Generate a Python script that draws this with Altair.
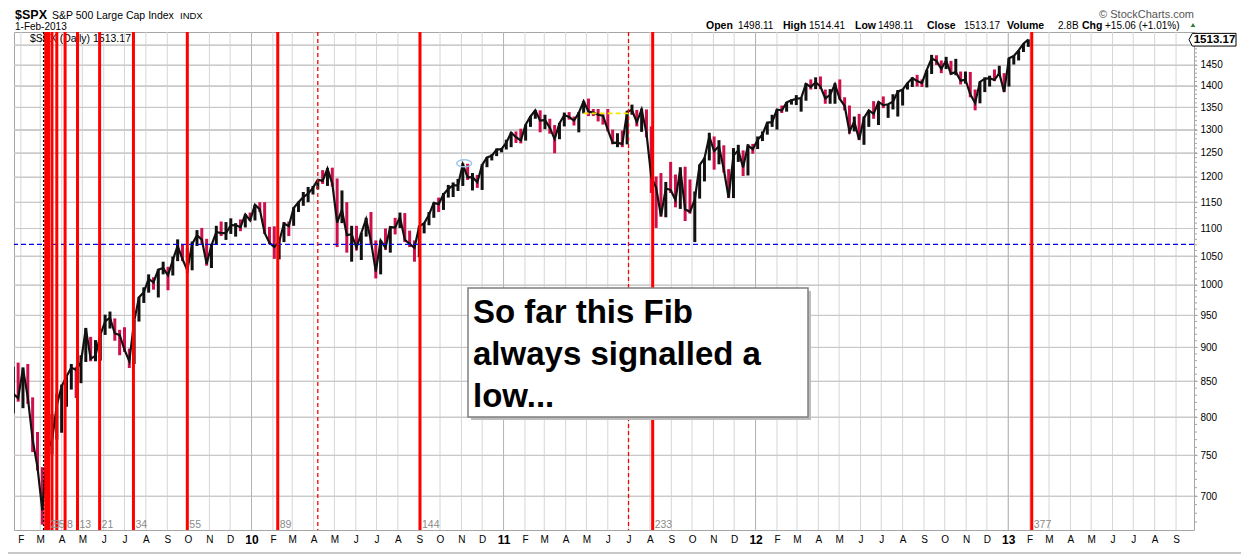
import altair as alt
import pandas as pd
import numpy as np

# ---------------- weekly S&P 500 values ----------------
closes_2009 = [831.95, 825.88, 868.60, 826.84, 770.05, 735.09, 683.38, 756.55, 768.54, 815.94,
               842.50, 856.56, 869.60, 866.23, 877.52, 929.23, 882.88, 887.00, 919.14, 940.09,
               946.21, 921.23, 918.90, 896.42, 879.13, 940.38, 979.26, 987.48, 1010.48, 1004.09,
               1026.13, 1028.93, 1016.40, 1042.73, 1068.30, 1044.38, 1025.21, 1071.49, 1087.68, 1079.60,
               1036.19, 1069.30, 1093.48, 1091.38, 1091.49, 1105.98, 1106.41, 1102.47, 1126.48, 1115.10]
highs_2009 = [871, 877, 870, 875, 827, 780, 735, 758, 804, 832,
              845, 857, 875, 871, 888, 930, 916, 911, 920, 951,
              956, 945, 927, 931, 898, 942, 980, 996, 1018, 1013,
              1027, 1040, 1031, 1049, 1080, 1071, 1064, 1076, 1097, 1101,
              1081, 1072, 1105, 1113, 1112, 1119, 1110, 1117, 1127, 1130]
lows_2009 = [805, 821, 812, 818, 754, 731, 667, 672, 751, 770,
             779, 814, 838, 826, 847, 878, 879, 879, 880, 919,
             929, 910, 888, 893, 869, 875, 940, 970, 987, 992,
             979, 1018, 991, 1016, 1041, 1041, 1020, 1025, 1068, 1072,
             1033, 1029, 1070, 1086, 1079, 1090, 1085, 1095, 1102, 1114]

closes_2010 = [1144.98, 1136.03, 1091.76, 1073.87, 1066.19, 1075.51, 1109.17, 1104.49, 1138.70, 1149.99,
               1159.90, 1166.59, 1178.10, 1194.37, 1192.13, 1217.28, 1186.69, 1110.88, 1135.68, 1087.69,
               1089.41, 1064.88, 1091.60, 1117.51, 1076.76, 1022.58, 1077.96, 1064.88, 1102.66, 1101.60,
               1121.64, 1079.25, 1071.69, 1064.59, 1104.51, 1109.55, 1125.59, 1148.67, 1146.24, 1165.15,
               1176.19, 1183.08, 1183.26, 1225.85, 1199.21, 1199.73, 1189.40, 1224.71, 1240.40, 1243.91,
               1256.77, 1257.64]
highs_2010 = [1145, 1150, 1150, 1103, 1104, 1080, 1112, 1113, 1140, 1151,
              1170, 1180, 1182, 1194, 1214, 1218, 1219, 1197, 1173, 1150,
              1105, 1105, 1092, 1120, 1131, 1078, 1078, 1100, 1104, 1120,
              1130, 1129, 1096, 1078, 1105, 1111, 1131, 1149, 1159, 1168,
              1184, 1189, 1196, 1228, 1227, 1208, 1204, 1226, 1241, 1247,
              1259, 1260]
lows_2010 = [1115, 1131, 1090, 1071, 1045, 1044, 1075, 1086, 1105, 1131,
             1143, 1150, 1165, 1175, 1186, 1182, 1181, 1066, 1110, 1056,
             1040, 1060, 1043, 1085, 1070, 1011, 1018, 1061, 1056, 1089,
             1101, 1075, 1066, 1040, 1048, 1091, 1106, 1120, 1131, 1135,
             1159, 1160, 1172, 1182, 1194, 1173, 1178, 1174, 1220, 1234,
             1243, 1251]

closes_2011 = [1271.50, 1293.24, 1283.35, 1276.34, 1310.87, 1329.15, 1343.01, 1319.88, 1321.15, 1304.28,
               1279.20, 1313.80, 1332.41, 1328.17, 1319.68, 1337.38, 1363.61, 1340.20, 1337.77, 1333.27,
               1331.10, 1300.16, 1270.98, 1271.50, 1268.45, 1339.67, 1343.80, 1316.14, 1345.02, 1292.28,
               1199.38, 1178.81, 1123.53, 1176.80, 1173.97, 1154.23, 1216.01, 1136.43, 1131.42, 1155.46,
               1224.58, 1238.25, 1285.09, 1253.23, 1263.85, 1215.65, 1158.67, 1244.28, 1255.19, 1219.66,
               1265.33, 1257.60]
highs_2011 = [1278, 1294, 1296, 1302, 1311, 1330, 1344, 1343, 1333, 1324,
              1310, 1315, 1338, 1339, 1329, 1339, 1364, 1370, 1346, 1346,
              1334, 1346, 1300, 1292, 1298, 1342, 1356, 1344, 1347, 1345,
              1307, 1201, 1208, 1190, 1231, 1205, 1220, 1221, 1195, 1171,
              1225, 1240, 1293, 1285, 1277, 1266, 1216, 1260, 1267, 1255,
              1268, 1269]
lows_2011 = [1257, 1262, 1271, 1270, 1276, 1306, 1324, 1294, 1301, 1291,
             1249, 1279, 1307, 1322, 1309, 1294, 1336, 1330, 1330, 1318,
             1311, 1296, 1268, 1262, 1262, 1268, 1333, 1307, 1295, 1283,
             1168, 1101, 1122, 1121, 1168, 1140, 1137, 1114, 1128, 1075,
             1157, 1191, 1234, 1215, 1226, 1209, 1158, 1158, 1231, 1202,
             1203, 1248]

closes_2012 = [1277.81, 1289.09, 1315.38, 1316.33, 1344.90, 1342.64, 1361.23, 1365.74, 1369.63, 1370.87,
               1404.17, 1397.11, 1408.47, 1398.08, 1370.26, 1378.53, 1403.36, 1369.10, 1353.39, 1295.22,
               1317.82, 1278.04, 1325.66, 1342.84, 1335.02, 1362.16, 1354.68, 1356.78, 1362.66, 1385.97,
               1390.99, 1405.87, 1418.16, 1411.13, 1406.58, 1437.92, 1465.77, 1460.15, 1440.67, 1460.93,
               1428.59, 1433.19, 1411.94, 1414.20, 1379.85, 1359.88, 1409.15, 1416.18, 1418.07, 1413.58,
               1430.15, 1385.59]
highs_2012 = [1285, 1296, 1316, 1333, 1345, 1354, 1362, 1368, 1378, 1372,
              1406, 1415, 1420, 1422, 1391, 1392, 1406, 1415, 1373, 1354,
              1329, 1335, 1329, 1343, 1364, 1363, 1375, 1357, 1380, 1390,
              1392, 1407, 1420, 1426, 1415, 1438, 1475, 1474, 1461, 1470,
              1460, 1465, 1434, 1434, 1433, 1391, 1410, 1420, 1424, 1439,
              1448, 1430]
lows_2012 = [1258, 1275, 1289, 1306, 1300, 1337, 1340, 1356, 1355, 1340,
             1365, 1391, 1392, 1392, 1358, 1358, 1358, 1368, 1343, 1291,
             1296, 1277, 1267, 1306, 1324, 1310, 1348, 1326, 1345, 1329,
             1354, 1391, 1397, 1398, 1397, 1396, 1428, 1450, 1430, 1440,
             1426, 1425, 1403, 1405, 1373, 1343, 1359, 1385, 1398, 1411,
             1424, 1385]

closes_2013 = [1466.47, 1472.05, 1485.98, 1502.96, 1513.17]
highs_2013 = [1467, 1473, 1486, 1503, 1514]
lows_2013 = [1398, 1451, 1461, 1482, 1495]

# ---------------- annotations ----------------
start_date = ["2009-03-06"]
fib_dates = ["2009-03-09", "2009-03-10", "2009-03-11", "2009-03-13", "2009-03-18", "2009-03-25",
             "2009-04-06", "2009-04-24", "2009-05-26", "2009-07-14", "2009-09-30", "2010-02-08",
             "2010-09-02", "2011-08-05", "2013-02-04"]
fib_labels = ["", "", "", "2", "3", "5", "8", "13", "21", "34", "55", "89", "144", "233", "377"]
dashed_dates = ["2010-04-07", "2011-07-01"]
support_level = [1071]
resistance_start = ["2011-04-27"]
resistance_end = ["2011-07-01"]
resistance_level = [1336]
marker_date = ["2010-11-05"]
marker_value = [1228]
last_close = 1513.17
y_ticks = list(range(700, 1501, 50))
minor_ticks = list(range(670, 1531, 10))
year_starts = ["2010-01-01", "2011-01-01", "2012-01-01", "2013-01-01"]

header_labels = ["Open", "High", "Low", "Close", "Volume", "Chg"]
header_values = ["1498.11", "1514.41", "1498.11", "1513.17", "2.8B", "+15.06 (+1.01%)"]
note_lines = ["So far this Fib", "always signalled a", "low..."]

# ---------------- frames ----------------
closes = closes_2009 + closes_2010 + closes_2011 + closes_2012 + closes_2013
highs = highs_2009 + highs_2010 + highs_2011 + highs_2012 + highs_2013
lows = lows_2009 + lows_2010 + lows_2011 + lows_2012 + lows_2013
dates = pd.date_range("2009-01-21", periods=len(closes), freq="7D")
prices = pd.DataFrame({"date": dates, "close": closes, "high": highs, "low": lows})
prices["dir"] = np.where(prices["close"].diff().fillna(0) >= 0, "up", "down")

fib_df = pd.DataFrame({"date": pd.to_datetime(fib_dates), "label": fib_labels})
start_df = pd.DataFrame({"date": pd.to_datetime(start_date)})
dashed_df = pd.DataFrame({"date": pd.to_datetime(dashed_dates)})
support_df = pd.DataFrame({"level": support_level})
res_df = pd.DataFrame({"start": pd.to_datetime(resistance_start), "end": pd.to_datetime(resistance_end),
                       "level": resistance_level})
marker_df = pd.DataFrame({"date": pd.to_datetime(marker_date), "value": marker_value})
minor_df = pd.DataFrame({"mt": minor_ticks})
month_grid_df = pd.DataFrame({"date": pd.date_range("2009-02-01", "2013-09-01", freq="MS")})
year_grid_df = pd.DataFrame({"date": pd.to_datetime(year_starts)})
ygrid_df = pd.DataFrame({"gy": [float(v) for v in y_ticks]})

W, H = 1180, 498
FONT = "Liberation Sans"
one = alt.Data(values=[{}])

x_scale = alt.Scale(domain=[alt.DateTime(year=2009, month=1, date=22),
                            alt.DateTime(year=2013, month=9, date=27)])
y_scale = alt.Scale(type="log", domain=[661, 1533], nice=False, zero=False)
is_jan = "month(datum.value) == 0"

x_axis = alt.Axis(
    title=None,
    tickCount=alt.TimeIntervalStep(interval="month", step=1),
    labelExpr="month(datum.value) == 0 ? timeFormat(datum.value, '%y') : slice(timeFormat(datum.value, '%b'), 0, 1)",
    labelFont=FONT,
    labelFontSize={"condition": {"test": is_jan, "value": 12}, "value": 10},
    labelFontWeight={"condition": {"test": is_jan, "value": "bold"}, "value": "normal"},
    labelColor="black", labelPadding=4, labelOverlap=False, labelFlush=False,
    ticks=False, domain=False, grid=False,
)
y_axis = alt.Axis(
    title=None, orient="right", values=y_ticks, format="d",
    labelExpr="datum.value == 1500 ? '' : datum.label",
    labelFont=FONT, labelFontSize=10, labelColor="black", labelPadding=3,
    ticks=True, tickSize=3, tickColor="#a6a6a6", domain=False,
    grid=True, gridColor="#cccccc", gridWidth=1,
)


def X(field):
    return alt.X(field, scale=x_scale, axis=x_axis)


def Y(field):
    return alt.Y(field, scale=y_scale, axis=y_axis)


grid_month = alt.Chart(month_grid_df).mark_rule(color="#d6d6d6", strokeWidth=1).encode(x=X("date:T"))
grid_year = alt.Chart(year_grid_df).mark_rule(color="#b4b4b4", strokeWidth=1).encode(x=X("date:T"))
grid_y = alt.Chart(ygrid_df).mark_rule(color="#c8c8c8", strokeWidth=1).encode(y=Y("gy:Q"))

price = alt.Chart(prices).mark_rule(strokeWidth=3, clip=True).encode(
    x=X("date:T"), y=Y("low:Q"), y2="high:Q",
    color=alt.Color("dir:N", scale=alt.Scale(domain=["up", "down"], range=["#111111", "#d0104a"]),
                    legend=None),
)
close_line = alt.Chart(prices).mark_line(color="#111111", strokeWidth=2.2, clip=True).encode(
    x=X("date:T"), y=Y("close:Q"))

minor = alt.Chart(minor_df).mark_rule(color="#a6a6a6", strokeWidth=1).encode(
    y=Y("mt:Q"), x=alt.value(W), x2=alt.value(W + 3))

support = alt.Chart(support_df).mark_rule(color="#0000ee", strokeDash=[5, 3], strokeWidth=1.2).encode(
    y=Y("level:Q"))

resist = alt.Chart(res_df).mark_rule(color="#f2e600", strokeDash=[5, 3], strokeWidth=1.8).encode(
    x=X("start:T"), x2="end:T", y=Y("level:Q"))

ellipse = "M-1,0 A1,0.47 0 1,0 1,0 A1,0.47 0 1,0 -1,0 Z"
marker = alt.Chart(marker_df).mark_point(shape=ellipse, size=225, filled=False, color="#9ec5ea",
                                         strokeWidth=1.5, opacity=1).encode(
    x=X("date:T"), y=Y("value:Q"))

legend_txt = alt.Chart(one).mark_text(
    text=f"$SPX (Daily) {last_close:.2f}", align="left", baseline="alphabetic",
    font=FONT, fontSize=10.5, color="black").encode(x=alt.value(16), y=alt.value(9.5))

start_line = alt.Chart(start_df).mark_rule(color="black", strokeDash=[2, 2], strokeWidth=1.5).encode(
    x=X("date:T"))
fib_lines = alt.Chart(fib_df).mark_rule(color="#ff0000", strokeWidth=3).encode(x=X("date:T"))
dashed_lines = alt.Chart(dashed_df).mark_rule(color="#ff0000", strokeDash=[4, 3], strokeWidth=1.3).encode(
    x=X("date:T"))
fib_text = alt.Chart(fib_df).mark_text(align="left", baseline="alphabetic", dx=2, font=FONT,
                                       fontSize=10.5, color="#8a8a8a").encode(
    x=X("date:T"), y=alt.value(H - 2), text="label:N")

shadow = alt.Chart(one).mark_rect(fill="#bdbdbd").encode(
    x=alt.value(457), x2=alt.value(797), y=alt.value(259), y2=alt.value(388))
box = alt.Chart(one).mark_rect(fill="white", stroke="#7f7f7f", strokeWidth=1.5).encode(
    x=alt.value(454), x2=alt.value(794), y=alt.value(256), y2=alt.value(385))
note_layers = [
    alt.Chart(one).mark_text(text=t, align="left", baseline="alphabetic", font=FONT, fontSize=33,
                             fontWeight="bold", color="black").encode(x=alt.value(459), y=alt.value(yy))
    for t, yy in zip(note_lines, [291, 333, 375])
]


def label(text, x, y, size=10.5, weight="normal", color="black", align="left"):
    return alt.Chart(one).mark_text(text=text, align=align, baseline="alphabetic", font=FONT,
                                    fontSize=size, fontWeight=weight, color=color).encode(
        x=alt.value(x), y=alt.value(y))


header = [
    label("$SPX", 1, -13.5, size=12.5, weight="bold"),
    label("S&P 500 Large Cap Index", 38, -13.5, size=10.5),
    label("INDX", 166, -13.5, size=9.5),
    label("1-Feb-2013", 1, -2.5, size=10),
    label("\u00a9 StockCharts.com", W, -14.5, size=11, color="#555555", align="right"),
]
label_x = [692, 769, 841, 913, 993, 1068]
value_x = [724, 795, 864, 950, 1044, 1091]
for t, xx in zip(header_labels, label_x):
    header.append(label(t, xx, -3.5, size=10.5, weight="bold"))
for t, xx in zip(header_values, value_x):
    header.append(label(t, xx, -3.5, size=10))
tri = alt.Chart(one).mark_point(shape="triangle-up", size=22, filled=True, color="#2e7d32", opacity=1).encode(
    x=alt.value(1179), y=alt.value(-7))

tag = "M-1,0 L-0.86,-0.27 L1,-0.27 L1,0.27 L-0.86,0.27 Z"
price_tag = alt.Chart(one).mark_point(shape=tag, size=2209, filled=True, fill="white", stroke="black",
                                      strokeWidth=1, opacity=1).encode(
    x=alt.value(W + 18.5), y=alt.YDatum(last_close, scale=y_scale, axis=y_axis))
price_tag_txt = alt.Chart(one).mark_text(text=f"{last_close:.2f}", align="center", baseline="middle",
                                         font=FONT, fontSize=11.5, fontWeight="bold", color="black").encode(
    x=alt.value(W + 20.5), y=alt.YDatum(last_close, scale=y_scale, axis=y_axis))

separator = alt.Chart(one).mark_rule(color="#c8c8c8", strokeWidth=2).encode(
    x=alt.value(-6), x2=alt.value(1227), y=alt.value(521))

chart = alt.layer(
    grid_month, grid_y, grid_year,
    price, close_line, minor, support, resist, marker, legend_txt, start_line, fib_lines, dashed_lines,
    fib_text, shadow, box, *note_layers, *header, tri, price_tag, price_tag_txt, separator,
).properties(
    width=W, height=H,
    padding={"left": 6, "top": 24, "right": 47, "bottom": 27},
    autosize=alt.AutoSizeParams(type="none"),
    background="white",
).configure_view(stroke="#a6a6a6", strokeWidth=1)

chart.save("out.html", embed_options={"renderer": "svg", "actions": False})
